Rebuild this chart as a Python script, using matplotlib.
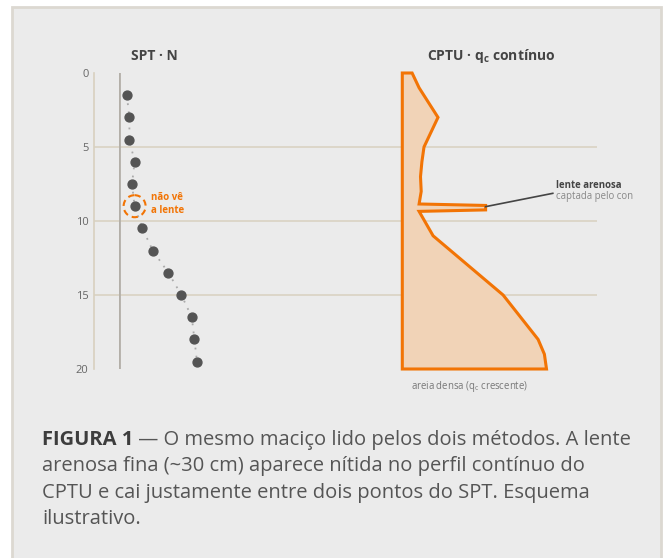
import matplotlib
matplotlib.use("Agg")
import matplotlib.pyplot as plt
from matplotlib.patches import Rectangle, Ellipse
from matplotlib.transforms import Bbox, TransformedBbox

plt.rcParams['font.family'] = ['Open Sans', 'DejaVu Sans']
plt.rcParams['mathtext.fontset'] = 'custom'
plt.rcParams['mathtext.rm'] = 'Open Sans'
plt.rcParams['mathtext.bf'] = 'Open Sans:bold'

# SPT: depth (m) and blow count N
spt_depth = [1.5, 3.0, 4.5, 6.0, 7.5, 9.0, 10.5, 12.0, 13.5, 15.0, 16.5, 18.0, 19.5]
spt_n = [3, 4, 4, 6, 5, 6, 9, 13, 19, 24, 28, 29, 30]

# CPTU: continuous qc profile (MPa), thin sand lens at ~9 m
cpt_depth = [0, 1, 3, 5, 6, 7, 8, 8.85, 8.95, 9.25, 9.35, 11, 15, 18, 19, 20]
cpt_qc = [1.4, 2.4, 5.1, 3.1, 2.8, 2.6, 2.7, 2.4, 11.9, 11.9, 2.4, 4.4, 14.4, 19.4, 20.3, 20.6]

depth_ticks = [0, 5, 10, 15, 20]
grid_depths = [5, 10, 15]
lens_depth = 9.0

ORANGE = '#f27405'
FILL = '#f1d3b7'
GRID = '#d8d0bf'

W, H = 664, 558
fig = plt.figure(figsize=(W / 100, H / 100), dpi=100)
fig.patch.set_facecolor('white')

# grey panel behind everything
fig.patches.append(Rectangle((12 / W, -0.05), 649 / W, (H - 7) / H + 0.05,
                             transform=fig.transFigure, facecolor='#ebebeb',
                             edgecolor='#dcd8d1', lw=2, zorder=-5))

def px_axes(x0, x1, y0=73, y1=369):
    return fig.add_axes([x0 / W, (H - y1) / H, (x1 - x0) / W, (y1 - y0) / H])

# background axes: depth scale and gridlines
ax = px_axes(94, 597)
ax.set_ylim(20, 0)
ax.set_xlim(0, 1)
ax.patch.set_alpha(0)
for s in ['top', 'right', 'bottom']:
    ax.spines[s].set_visible(False)
ax.spines['left'].set_color(GRID)
ax.spines['left'].set_linewidth(1.2)
ax.set_xticks([])
ax.set_yticks(depth_ticks)
ax.tick_params(axis='y', length=0, pad=4, labelsize=8, labelcolor='#666666')
for d in grid_depths:
    ax.axhline(d, color=GRID, lw=1.1, zorder=0)

# SPT axes
ax1 = px_axes(119, 223)
ax1.set_xlim(0, 40)
ax1.set_ylim(20, 0)
ax1.patch.set_alpha(0)
ax1.axis('off')
ax1.axvline(0, color='#b3afa8', lw=2)
ax1.plot(spt_n, spt_depth, color='#aaaaaa', lw=1.3, ls=(0, (1, 3.5)), zorder=2)
ax1.plot(spt_n, spt_depth, 'o', color='#545454', ms=6.4, zorder=3)
i = spt_depth.index(lens_depth)
ax1.add_patch(Ellipse((spt_n[i], lens_depth), 22 / 2.6, 22 / 14.8, fill=False,
                      edgecolor=ORANGE, lw=1.5, ls=(0, (3, 2)), zorder=4))
ax1.text(12.3, 8.85, 'não vê\na lente', color=ORANGE, fontsize=7,
         fontweight='bold', va='center', ha='left', linespacing=1.25)
ax1.text(13.5, -1.15, 'SPT · N', ha='center', va='center', fontsize=10,
         fontweight='bold', color='#444444', clip_on=False)

# CPTU axes
ax2 = px_axes(402.3, 577.3)
ax2.set_xlim(0, 25)
ax2.set_ylim(20, 0)
ax2.patch.set_alpha(0)
ax2.axis('off')
xs = [0] + cpt_qc + [0]
ys = [cpt_depth[0]] + cpt_depth + [cpt_depth[-1]]
ax2.fill(xs, ys, facecolor=FILL, edgecolor=ORANGE, lw=2.2, joinstyle='miter',
         clip_on=False, zorder=2)
ax2.plot([11.9, 21.5], [9.03, 8.13], color='#444444', lw=1.2, clip_on=False)
ax2.text(21.9, 7.6, 'lente arenosa', fontsize=6.9, fontweight='bold',
         color='#444444', va='center', ha='left', clip_on=False)
t = ax2.text(21.9, 8.36, 'captada pelo cone', fontsize=6.9, color='#888888',
             va='center', ha='left')
t.set_clip_box(TransformedBbox(Bbox.from_extents(0, 0, 633 / W, 1), fig.transFigure))
t.set_clip_on(True)
ax2.text(12.7, -1.15, r'CPTU · q$_{\mathbf{c}}$ contínuo', ha='center', va='center',
         fontsize=10, fontweight='bold', color='#444444', clip_on=False)
ax2.text(1.24, 21.2, r'areia densa (q$_{\mathrm{c}}$ crescente)', ha='left',
         va='center', fontsize=6.9, color='#777777', clip_on=False)

# caption: bold label followed by regular text
CAP = 14.5
r = fig.canvas.get_renderer()
lab = fig.text(42 / W, 1 - 440 / H, 'FIGURA 1', fontsize=CAP, fontweight='bold',
               color='#3d3d3d', va='center', ha='left')
x_end = lab.get_window_extent(r).x1 / W
fig.text(x_end, 1 - 440 / H, ' — O mesmo maciço lido pelos dois métodos. A lente',
         fontsize=CAP, color='#555555', va='center', ha='left')
caption = ['arenosa fina (~30 cm) aparece nítida no perfil contínuo do',
           'CPTU e cai justamente entre dois pontos do SPT. Esquema',
           'ilustrativo.']
for k, line in enumerate(caption):
    fig.text(42 / W, 1 - (466.5 + 26.5 * k) / H, line, fontsize=CAP,
             color='#555555', va='center', ha='left')

fig.savefig('out.png', dpi=100)
